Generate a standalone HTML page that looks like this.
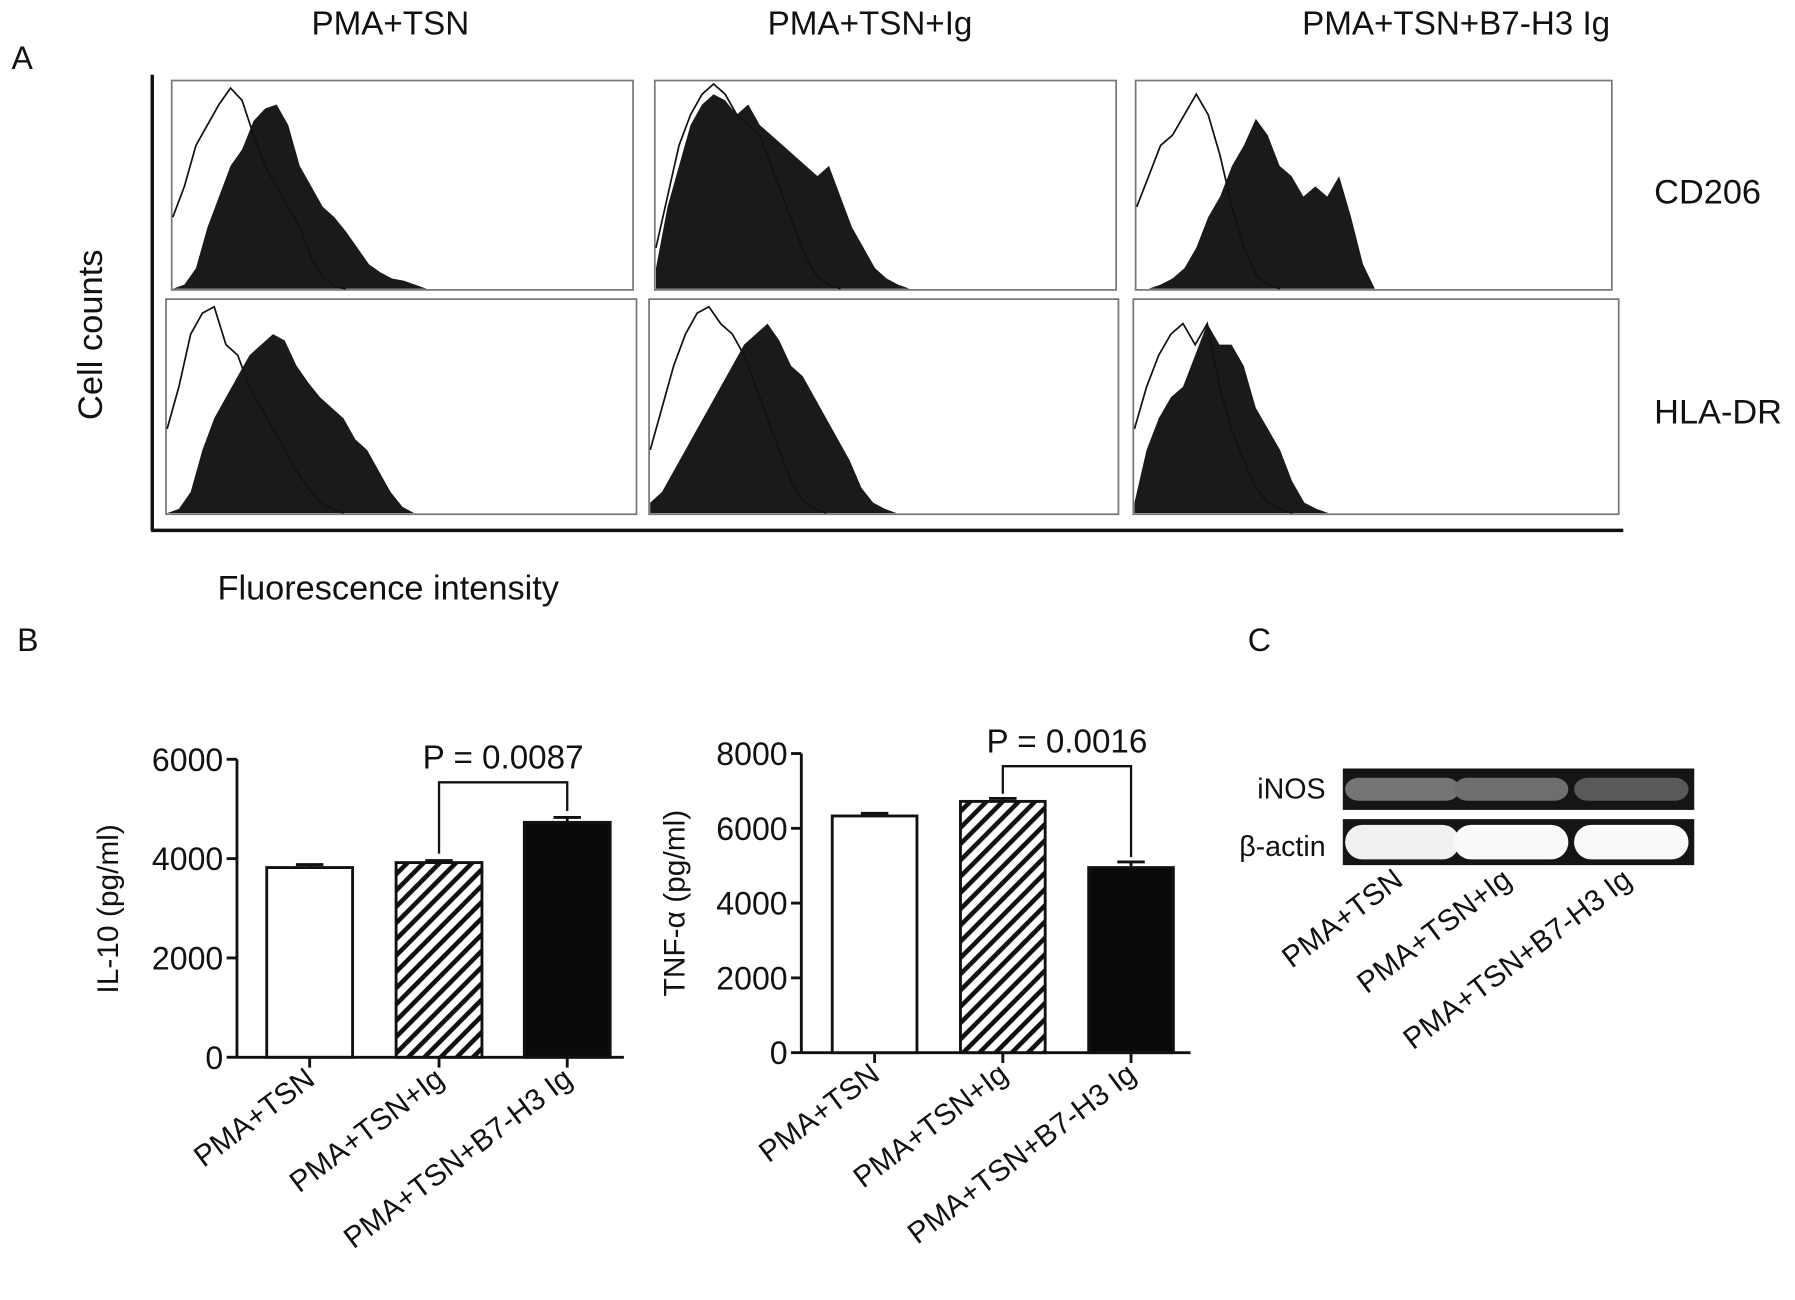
<!DOCTYPE html>
<html><head><meta charset="utf-8">
<style>html,body{margin:0;padding:0;background:#fff}svg{display:block}text{font-family:"Liberation Sans",sans-serif;fill:#111}</style>
</head><body>
<svg id="fig" width="1795" height="1300" viewBox="0 0 1568 1130" preserveAspectRatio="none" xmlns="http://www.w3.org/2000/svg">
<defs><pattern id="hatch" patternUnits="userSpaceOnUse" width="10" height="10" patternTransform="rotate(45)"><rect width="10" height="10" fill="#fff"/><rect width="4" height="10" fill="#111"/></pattern></defs>
<g id="panelA">
<text x="10" y="60" font-size="28">A</text>
<text x="341" y="30" font-size="29" text-anchor="middle">PMA+TSN</text>
<text x="760" y="30" font-size="29" text-anchor="middle">PMA+TSN+Ig</text>
<text x="1272" y="30" font-size="29" text-anchor="middle">PMA+TSN+B7-H3 Ig</text>
<text x="1445" y="177" font-size="30">CD206</text>
<text x="1445" y="368" font-size="30">HLA-DR</text>
<text transform="translate(89,291) rotate(-90)" font-size="30" text-anchor="middle">Cell counts</text>
<text x="190" y="521" font-size="30">Fluorescence intensity</text>
<line x1="133" y1="65" x2="133" y2="461" stroke="#111" stroke-width="3"/>
<line x1="132" y1="461" x2="1418" y2="461" stroke="#111" stroke-width="3"/>
</g>
<g id="hists"></g>
<g id="panelB">
<text x="15" y="566" font-size="28">B</text>
</g>
<g id="bars1"></g>
<g id="bars2"></g>
<g id="panelC">
<text x="1090" y="566" font-size="28">C</text>
<rect x="1173" y="668" width="307" height="36" fill="#151515"/>
<rect x="1173" y="712" width="307" height="40" fill="#151515"/>
<text x="1158" y="694" font-size="25" text-anchor="end">iNOS</text>
<text x="1158" y="744" font-size="25" text-anchor="end">β-actin</text>
</g>
<g id="gel"></g>
</svg>
<script>
const NS="http://www.w3.org/2000/svg";
function mk(tag,attrs,parent){const e=document.createElementNS(NS,tag);for(const k in attrs)e.setAttribute(k,attrs[k]);parent.appendChild(e);return e;}
const histFilled=[
 [0,0.02,0.1,0.3,0.45,0.6,0.68,0.82,0.88,0.9,0.8,0.6,0.5,0.4,0.35,0.28,0.2,0.12,0.08,0.05,0.04,0.02,0],
 [0.1,0.4,0.6,0.8,0.9,0.95,0.92,0.85,0.9,0.8,0.75,0.7,0.65,0.6,0.55,0.6,0.45,0.3,0.2,0.1,0.05,0.02,0],
 [0,0,0.02,0.05,0.1,0.2,0.35,0.45,0.6,0.7,0.83,0.75,0.6,0.55,0.45,0.5,0.45,0.55,0.35,0.12,0],
 [0,0.02,0.1,0.3,0.45,0.55,0.65,0.75,0.8,0.85,0.82,0.7,0.62,0.55,0.5,0.45,0.35,0.3,0.2,0.1,0.03,0],
 [0.05,0.1,0.2,0.3,0.4,0.5,0.6,0.7,0.8,0.85,0.9,0.82,0.7,0.65,0.55,0.45,0.35,0.25,0.12,0.05,0.02,0],
 [0.05,0.3,0.45,0.55,0.6,0.75,0.9,0.8,0.8,0.7,0.5,0.4,0.3,0.15,0.05,0.02,0]
];
const histOutline=[
 [0.35,0.5,0.7,0.8,0.9,0.98,0.92,0.75,0.6,0.5,0.4,0.3,0.15,0.06,0.01,0],
 [0.2,0.45,0.7,0.85,0.95,1.0,0.95,0.85,0.8,0.75,0.6,0.45,0.3,0.15,0.06,0.02,0],
 [0.4,0.55,0.7,0.75,0.85,0.95,0.85,0.65,0.4,0.2,0.07,0.02,0],
 [0.4,0.6,0.85,0.95,0.98,0.8,0.75,0.6,0.5,0.4,0.3,0.2,0.12,0.05,0.02,0],
 [0.3,0.5,0.7,0.85,0.95,0.98,0.9,0.85,0.75,0.6,0.45,0.3,0.15,0.06,0.02,0],
 [0.4,0.6,0.75,0.85,0.9,0.8,0.9,0.6,0.4,0.25,0.12,0.05,0.02,0]
];
const boxes=[[150,70,553,252],[572,70,975,252],[992,70,1408,252],[145,260,556,447],[567,260,977,447],[990,260,1414,447]];
const hg=document.getElementById('hists');
boxes.forEach((b,i)=>{
 const [x0,y0,x1,y1]=b,w=x1-x0,h=y1-y0-4,step=w/40;
 const xs=k=>x0+1+k*step, ys=v=>y1-1-v*h;
 const r=mk('rect',{x:x0,y:y0,width:w,height:y1-y0,fill:'#fff',stroke:'#777','stroke-width':1.5},hg);
 
 
 let d='M'+xs(0)+','+(y1-1);histFilled[i].forEach((v,k)=>d+=' L'+xs(k)+','+ys(v));d+=' L'+xs(histFilled[i].length-1)+','+(y1-1)+'Z';
 const f=mk('path',{d:d,fill:'#1a1a1a'},hg);
 
 
 let d2='';histOutline[i].forEach((v,k)=>d2+=(k?' L':'M')+xs(k)+','+ys(v));
 const o=mk('path',{d:d2,fill:'none',stroke:'#111','stroke-width':1.5},hg);
 
 
});
const categories=['PMA+TSN','PMA+TSN+Ig','PMA+TSN+B7-H3 Ig'];
const il10Values=[3820,3920,4730];
const il10Errors=[60,40,100];
const il10Ticks=[0,2000,4000,6000];
const tnfValues=[6330,6720,4950];
const tnfErrors=[70,80,150];
const tnfTicks=[0,2000,4000,6000,8000];
const fills=['#fff','url(#hatch)','#0a0a0a'];
function barChart(g,cfg){
 const {ax,ay0,ayTop,max,ticks,vals,errs,x1,bx,bw,label,lblX,lblY,p,pair,pText}=cfg;
 const ys=v=>ay0-(v/max)*(ay0-ayTop);
 const yAx=mk('line',{x1:ax,y1:ayTop,x2:ax,y2:ay0,stroke:'#111','stroke-width':2.5},g);
 
 
 const xAx=mk('line',{x1:ax,y1:ay0,x2:x1,y2:ay0,stroke:'#111','stroke-width':2.5},g);
 
 
 ticks.forEach(t=>{
  const tl=mk('line',{x1:ax-9,y1:ys(t),x2:ax,y2:ys(t),stroke:'#111','stroke-width':2.5},g);
  
  
  const tt=mk('text',{x:ax-12,y:ys(t)+10,'font-size':28,'text-anchor':'end'},g);tt.textContent=t;
  
  
 });
 const yl=mk('text',{transform:`translate(${lblX},${lblY}) rotate(-90)`,'font-size':26,'text-anchor':'middle'},g);yl.textContent=label;
 
 
 const cx=[];
 vals.forEach((v,i)=>{
  const x=bx[i];cx.push(x+bw/2);
  const top=ys(v+errs[i]);
  const el=mk('line',{x1:x+bw/2,y1:top,x2:x+bw/2,y2:ys(v),stroke:'#111','stroke-width':2.5},g);
  
  
  const ec=mk('line',{x1:x+bw/2-12,y1:top,x2:x+bw/2+12,y2:top,stroke:'#111','stroke-width':2.5},g);
  
  
  const r=mk('rect',{x:x,y:ys(v),width:bw,height:ay0-ys(v),fill:fills[i],stroke:'#111','stroke-width':2.5},g);
  
  
  const tk=mk('line',{x1:x+bw/2,y1:ay0,x2:x+bw/2,y2:ay0+9,stroke:'#111','stroke-width':2.5},g);
  
  
  const ct=mk('text',{transform:`translate(${x+bw/2+6},${ay0+22}) rotate(-37)`,'font-size':26,'text-anchor':'end'},g);ct.textContent=categories[i];
  
  
 });
 const [a,b]=pair;
 const br=mk('path',{d:`M${cx[a]},${pair[2]} L${cx[a]},${p} L${cx[b]},${p} L${cx[b]},${pair[3]}`,fill:'none',stroke:'#111','stroke-width':2},g);
 
 
 const pt=mk('text',{x:(cx[a]+cx[b])/2,y:p-12,'font-size':29,'text-anchor':'middle'},g);pt.textContent=pText;
 
 
}
barChart(document.getElementById('bars1'),{id:'il10',ax:207,ay0:919,ayTop:660,max:6000,ticks:il10Ticks,vals:il10Values,errs:il10Errors,x1:545,bx:[233,346,458],bw:75,label:'IL-10 (pg/ml)',lblX:103,lblY:790,p:680,pair:[1,2,742,705],pText:'P = 0.0087'});
barChart(document.getElementById('bars2'),{id:'tnf',ax:700,ay0:915,ayTop:655,max:8000,ticks:tnfTicks,vals:tnfValues,errs:tnfErrors,x1:1040,bx:[727,839,951],bw:74,label:'TNF-α (pg/ml)',lblX:598,lblY:785,p:666,pair:[1,2,690,745],pText:'P = 0.0016'});
const inosIntensity=[0.55,0.5,0.35];
const actinIntensity=[0.95,1.0,1.0];
const laneX=[1225,1320,1425];
const gg=document.getElementById('gel');
laneX.forEach((x,i)=>{
 const c1=Math.round(40+inosIntensity[i]*140);
 const e1=mk('rect',{x:x-50,y:676,width:100,height:20,rx:12,fill:`rgb(${c1},${c1},${c1})`},gg);
 
 
 const c2=Math.round(60+actinIntensity[i]*190);
 const e2=mk('rect',{x:x-50,y:717,width:100,height:30,rx:15,fill:`rgb(${c2},${c2},${c2})`},gg);
 
 
 const t=mk('text',{transform:`translate(${x+2},${768}) rotate(-37)`,'font-size':26,'text-anchor':'end'},gg);t.textContent=categories[i];
 
 
});
</script>
</body></html>
